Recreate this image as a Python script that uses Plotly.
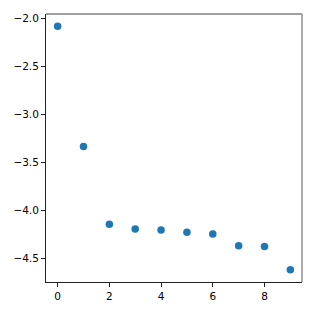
import plotly.graph_objects as go

x_vals = [0, 1, 2, 3, 4, 5, 6, 7, 8, 9]
y_vals = [-2.082, -3.335, -4.143, -4.194, -4.204, -4.228, -4.245, -4.368, -4.375, -4.618]
x_ticks = [0, 2, 4, 6, 8]
y_ticks = [-4.5, -4.0, -3.5, -3.0, -2.5, -2.0]
y_tick_text = ["\u22124.5", "\u22124.0", "\u22123.5", "\u22123.0", "\u22122.5", "\u22122.0"]

fig = go.Figure()
fig.add_trace(go.Scatter(
    x=x_vals, y=y_vals, mode="markers",
    marker=dict(color="#1f77b4", size=7.5, line=dict(width=0)),
))

font = dict(family="DejaVu Sans", size=10.5, color="black")
fig.update_layout(
    width=314, height=314,
    margin=dict(l=46, r=12, t=12, b=31),
    paper_bgcolor="white", plot_bgcolor="white",
    showlegend=False,
    font=font,
)
fig.update_xaxes(
    range=[-0.45, 9.45], tickvals=x_ticks, ticktext=[str(v) for v in x_ticks],
    showgrid=False, zeroline=False, showline=True, linecolor="#222", linewidth=1,
    ticks="outside", ticklen=4, tickcolor="#222", tickfont=font,
)
fig.update_yaxes(
    range=[-4.745, -1.955], tickvals=y_ticks, ticktext=y_tick_text,
    showgrid=False, zeroline=False, showline=True, linecolor="#222", linewidth=1,
    ticks="outside", ticklen=4, tickcolor="#222", tickfont=font,
)
fig.add_shape(type="line", xref="paper", yref="paper", x0=0, x1=1, y0=1, y1=1,
              line=dict(color="#808080", width=1.3))
fig.add_shape(type="line", xref="paper", yref="paper", x0=1, x1=1, y0=0, y1=1,
              line=dict(color="#808080", width=1.3))

fig.write_html("out.html",
               config={"displayModeBar": False},
               post_script="document.body.style.margin='0';document.body.style.padding='0';")
